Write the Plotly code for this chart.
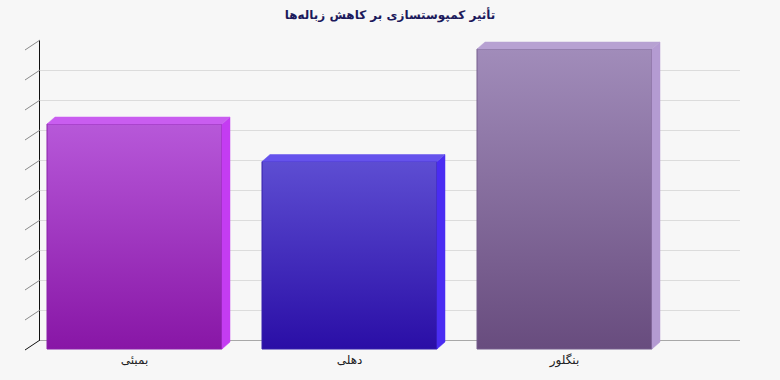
import plotly.graph_objects as go

# ---- data ----
categories = ["بمبئی", "دهلی", "بنگلور"]
values = [30, 25, 40]
front_top = ["#b758d9", "#5d4dd2", "#a18cba"]
front_bottom = ["#8816a6", "#2a0ea6", "#684c7e"]
side_colors = ["#c43cf2", "#4a2cf2", "#b49bd2"]
top_colors = ["#c95df0", "#6552ec", "#b7a1d2"]
edge_colors = ["#8a20aa", "#3420aa", "#745c8c"]
title_text = "تأثیر کمپوستسازی بر کاهش زباله‌ها"
y_max = 40
y_step = 4

# ---- geometry (pixels) ----
W, H = 780, 380
PX_PER_CAT = 215.0
CAT0_PX = 134.5
BASE_PX = 349.0
PX_PER_UNIT = 300.0 / y_max
BAR_W = 175.0 / PX_PER_CAT
DX = 8.0 / PX_PER_CAT
DY = 7.0 / PX_PER_UNIT

FRONT_X = (20, 760)
FRONT_Y = (30, 351)
BACK_X = (40, 740)
BACK_Y = (40, 340)
WALL_DX, WALL_DY = 15.0, 10.0


def fx(px):
    return (px - CAT0_PX) / PX_PER_CAT


def fy(py):
    return (BASE_PX - py) / PX_PER_UNIT


fig = go.Figure()

# back wall subplot (gridlines)
fig.add_trace(go.Scatter(x=[0, 1], y=[0, 0], mode="lines", line=dict(width=0),
                         showlegend=False, hoverinfo="skip", xaxis="x", yaxis="y"))

# diagonal ticks joining back wall to front floor
tx, ty, bx, by = [], [], [], []
n_ticks = int(y_max / y_step)
for k in range(n_ticks + 1):
    v = k * y_step
    py_back = BACK_Y[1] - v * PX_PER_UNIT
    seg_x = [fx(BACK_X[0]), fx(BACK_X[0] - WALL_DX), None]
    seg_y = [fy(py_back), fy(py_back + WALL_DY), None]
    if k == 0:
        bx += seg_x
        by += seg_y
    else:
        tx += seg_x
        ty += seg_y
fig.add_trace(go.Scatter(x=tx, y=ty, mode="lines", line=dict(color="#8a8a8a", width=1),
                         showlegend=False, hoverinfo="skip", xaxis="x2", yaxis="y2"))
fig.add_trace(go.Scatter(x=bx, y=by, mode="lines", line=dict(color="#111111", width=1),
                         showlegend=False, hoverinfo="skip", xaxis="x2", yaxis="y2"))

xs = list(range(len(categories)))

# front faces (bars)
fig.add_trace(go.Bar(x=xs, y=values, width=BAR_W,
                     marker=dict(color=front_bottom, line=dict(width=0)),
                     showlegend=False, xaxis="x2", yaxis="y2"))

for i, v in enumerate(values):
    xl = xs[i] - BAR_W / 2
    xr = xs[i] + BAR_W / 2
    # gradient front face
    fig.add_trace(go.Scatter(
        x=[xl, xr, xr, xl, xl], y=[0, 0, v, v, 0], mode="lines",
        fill="toself", line=dict(color=edge_colors[i], width=1),
        fillgradient=dict(type="vertical",
                          colorscale=[[0, front_bottom[i]], [1, front_top[i]]]),
        showlegend=False, hoverinfo="skip", xaxis="x2", yaxis="y2"))
    # side face
    fig.add_trace(go.Scatter(
        x=[xr, xr + DX, xr + DX, xr, xr], y=[0, DY, v + DY, v, 0], mode="lines",
        fill="toself", fillcolor=side_colors[i], line=dict(color=side_colors[i], width=0.5),
        showlegend=False, hoverinfo="skip", xaxis="x2", yaxis="y2"))
    # top face
    fig.add_trace(go.Scatter(
        x=[xl, xl + DX, xr + DX, xr, xl], y=[v, v + DY, v + DY, v, v], mode="lines",
        fill="toself", fillcolor=top_colors[i], line=dict(color=top_colors[i], width=0.5),
        showlegend=False, hoverinfo="skip", xaxis="x2", yaxis="y2"))

fig.update_layout(
    width=W, height=H,
    margin=dict(l=0, r=0, t=0, b=0),
    paper_bgcolor="#f7f7f7",
    plot_bgcolor="rgba(0,0,0,0)",
    font=dict(family="DejaVu Sans", size=12, color="#222222"),
    title=dict(text="<b>" + title_text + "</b>", x=0.5, xanchor="center",
               y=1 - 15 / H, yanchor="middle",
               font=dict(family="DejaVu Sans", size=12, color="#1c1a5c")),
    bargap=0,
    xaxis=dict(domain=[BACK_X[0] / W, BACK_X[1] / W], range=[0, 1],
               showgrid=False, zeroline=False, showticklabels=False, ticks="",
               showline=True, linecolor="#a8a8a8", linewidth=1, fixedrange=True),
    yaxis=dict(domain=[1 - BACK_Y[1] / H, 1 - BACK_Y[0] / H], range=[0, y_max],
               dtick=y_step, tick0=0, showgrid=True, gridcolor="#dcdcdc", gridwidth=1,
               zeroline=False, showticklabels=False, ticks="",
               showline=True, linecolor="#111111", linewidth=1, fixedrange=True),
    xaxis2=dict(domain=[FRONT_X[0] / W, FRONT_X[1] / W],
                range=[fx(FRONT_X[0]), fx(FRONT_X[1])],
                anchor="y2", showgrid=False, zeroline=False, showline=False,
                tickmode="array", tickvals=xs, ticktext=categories, ticks="",
                tickfont=dict(family="DejaVu Sans", size=12, color="#222222"),
                fixedrange=True),
    yaxis2=dict(domain=[1 - FRONT_Y[1] / H, 1 - FRONT_Y[0] / H],
                range=[fy(FRONT_Y[1]), fy(FRONT_Y[0])],
                anchor="x2", showgrid=False, zeroline=False, showline=False,
                showticklabels=False, ticks="", fixedrange=True),
)

fig.write_html("out.html")
